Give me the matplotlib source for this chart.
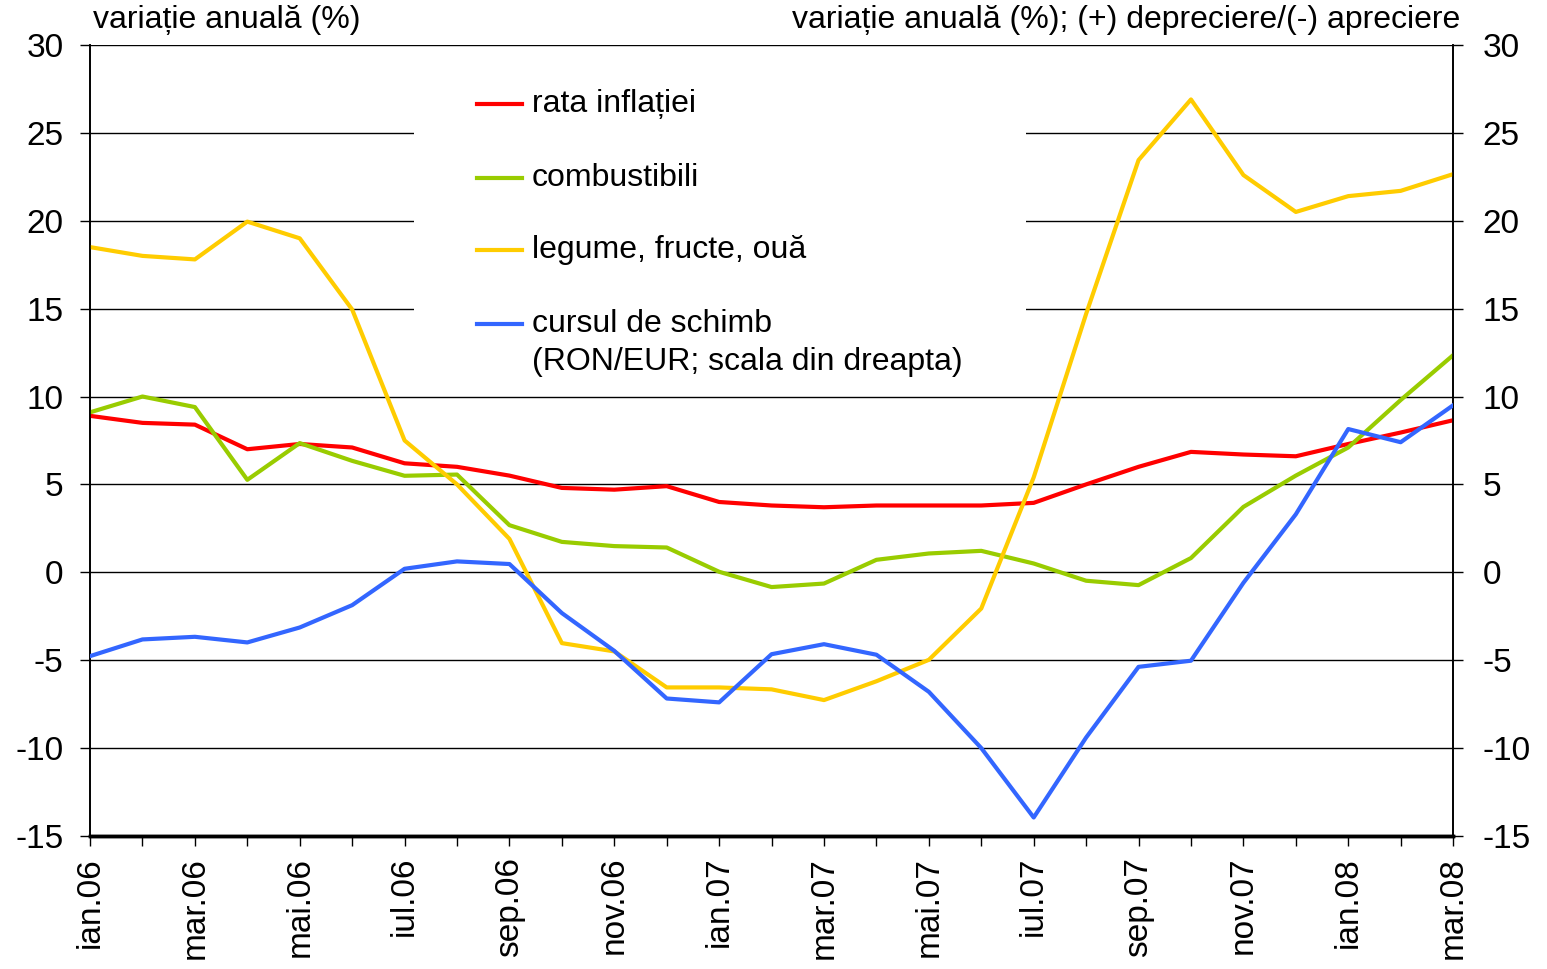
import matplotlib
matplotlib.use("Agg")
import matplotlib.pyplot as plt
from matplotlib.patches import Rectangle

plt.rcParams['font.family'] = ['Liberation Sans', 'DejaVu Sans']
plt.rcParams['axes.unicode_minus'] = False

# --- data (annual change, %) ---
months = ['ian.06', 'feb.06', 'mar.06', 'apr.06', 'mai.06', 'iun.06', 'iul.06', 'aug.06', 'sep.06',
          'oct.06', 'nov.06', 'dec.06', 'ian.07', 'feb.07', 'mar.07', 'apr.07', 'mai.07', 'iun.07',
          'iul.07', 'aug.07', 'sep.07', 'oct.07', 'nov.07', 'dec.07', 'ian.08', 'feb.08', 'mar.08']

inflatie = [8.9, 8.5, 8.4, 7.0, 7.3, 7.1, 6.2, 6.0, 5.5, 4.8, 4.7, 4.9, 4.0, 3.8,
            3.7, 3.8, 3.8, 3.8, 3.95, 5.0, 6.0, 6.85, 6.7, 6.6, 7.3, 7.95, 8.65]
combustibili = [9.1, 10.0, 9.4, 5.26, 7.35, 6.34, 5.49, 5.56, 2.68, 1.73, 1.49, 1.41, 0.03, -0.84,
                -0.64, 0.71, 1.07, 1.22, 0.5, -0.48, -0.73, 0.81, 3.72, 5.5, 7.1, 9.8, 12.35]
legume = [18.5, 18.0, 17.8, 19.95, 19.0, 14.95, 7.5, 5.0, 1.9, -4.03, -4.5, -6.55, -6.55, -6.66,
          -7.27, -6.2, -4.98, -2.06, 5.4, 14.7, 23.45, 26.9, 22.6, 20.5, 21.4, 21.7, 22.65]
curs = [-4.77, -3.82, -3.67, -3.99, -3.14, -1.87, 0.2, 0.62, 0.47, -2.32, -4.47, -7.18, -7.4, -4.66,
        -4.09, -4.69, -6.8, -10.0, -13.95, -9.4, -5.38, -5.03, -0.6, 3.3, 8.15, 7.4, 9.5]

labels = ['rata inflației', 'combustibili', 'legume, fructe, ouă',
          'cursul de schimb\n(RON/EUR; scala din dreapta)']
colors = ['#FF0000', '#99CC00', '#FFCC00', '#3366FF']

FS_TICK = 24
FS_TEXT = 23
x = list(range(len(months)))

fig = plt.figure(figsize=(15.47, 9.69), dpi=100)
ax = fig.add_axes([0.0582, 0.1373, 0.8811, 0.8163])
ax2 = ax.twinx()

# gridlines under a white patch where the legend sits
for v in range(-15, 31, 5):
    ax.axhline(v, color='black', lw=1.0, zorder=0.5)
ax.add_patch(Rectangle((0.238, 0.561), 0.449, 0.42, transform=ax.transAxes,
                       facecolor='white', edgecolor='none', zorder=1))

ax.plot(x, inflatie, color=colors[0], lw=3, zorder=3)
ax.plot(x, combustibili, color=colors[1], lw=3, zorder=3)
ax.plot(x, legume, color=colors[2], lw=3, zorder=3)
ax2.plot(x, curs, color=colors[3], lw=3, zorder=3)

for a in (ax, ax2):
    a.set_ylim(-15, 30)
    a.set_xlim(0, len(months) - 1)
    a.set_yticks(range(-15, 31, 5))
    for s in a.spines.values():
        s.set_linewidth(1.2)
    a.spines['top'].set_visible(False)
    a.spines['bottom'].set_linewidth(2.5)

ax.tick_params(axis='y', labelsize=FS_TICK, length=7, width=1, pad=12)
ax2.tick_params(axis='y', labelsize=FS_TICK, length=7, width=1, pad=14)
ax.set_xticks(x)
ax.set_xticklabels([m if i % 2 == 0 else '' for i, m in enumerate(months)], rotation=90, fontsize=FS_TICK)
ax.tick_params(axis='x', length=7, width=1, pad=8)

# manual legend
leg_y = [0.925, 0.832, 0.741, 0.647]
for lab, col, yy in zip(labels, colors, leg_y):
    ax.plot([0.284, 0.317], [yy, yy], color=col, lw=3, transform=ax.transAxes, zorder=4)
    for k, line in enumerate(lab.split('\n')):
        ax.text(0.324, yy - k * 0.048, line, transform=ax.transAxes, fontsize=FS_TEXT,
                va='center', ha='left', zorder=4)

fig.text(93 / 1547, 1 - 20 / 969, 'variație anuală (%)', fontsize=FS_TEXT, ha='left', va='center')
fig.text(1460 / 1547, 1 - 20 / 969, 'variație anuală (%); (+) depreciere/(-) apreciere',
         fontsize=FS_TEXT, ha='right', va='center')

fig.savefig('out.png', dpi=100)
